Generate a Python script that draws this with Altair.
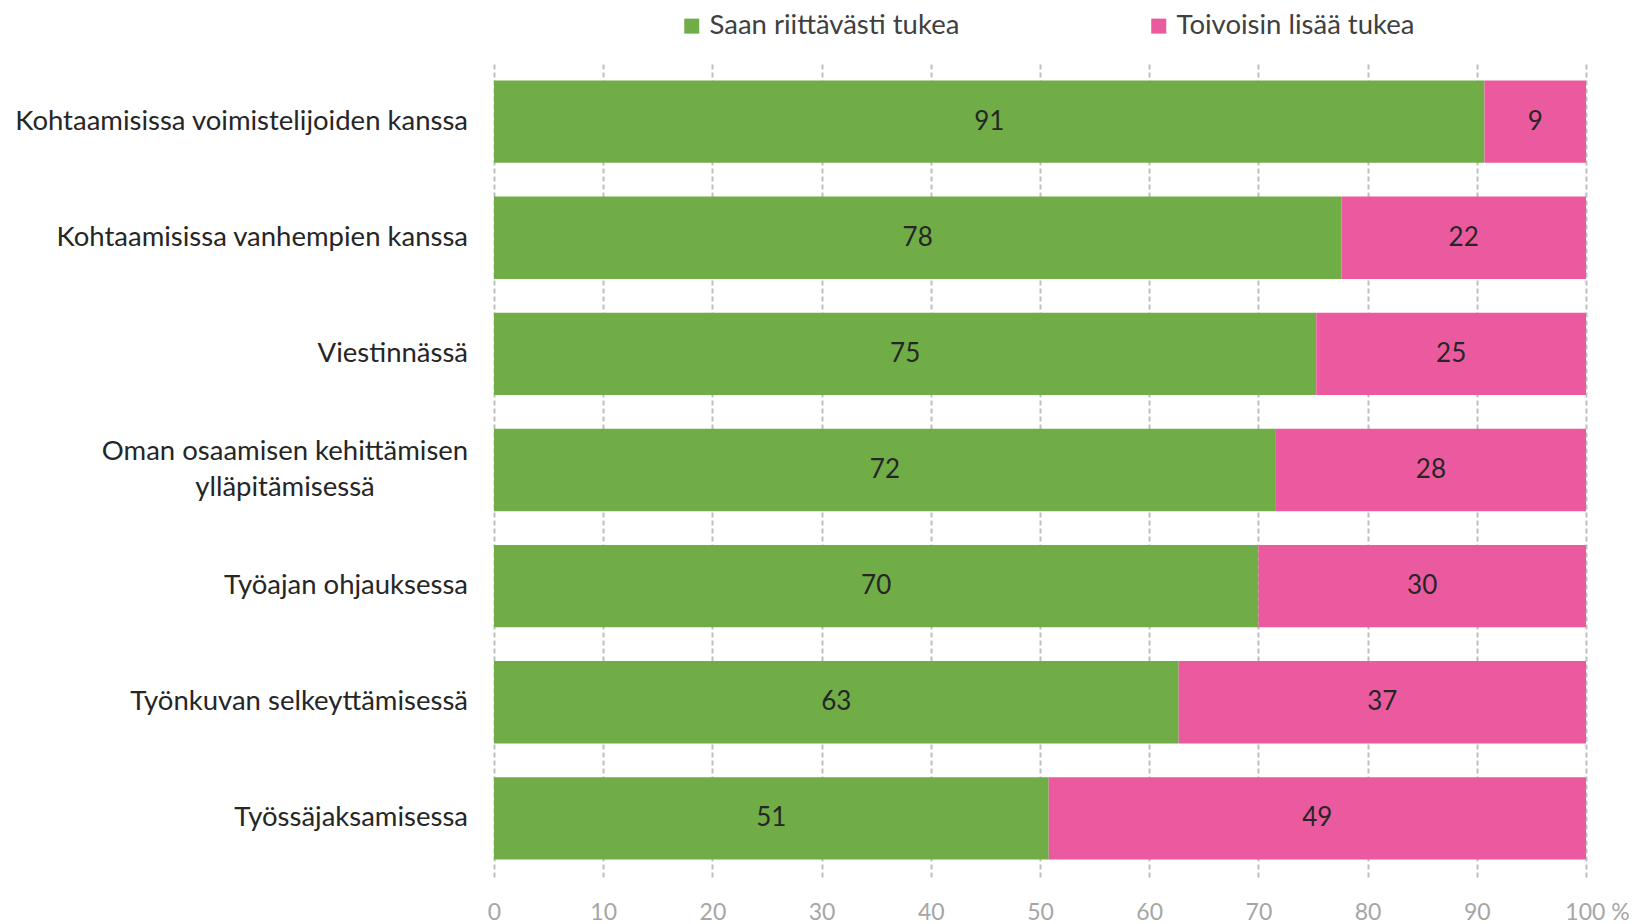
import altair as alt
import pandas as pd

categories = [
    "Kohtaamisissa voimistelijoiden kanssa",
    "Kohtaamisissa vanhempien kanssa",
    "Viestinnässä",
    "Oman osaamisen kehittämisen ylläpitämisessä",
    "Työajan ohjauksessa",
    "Työnkuvan selkeyttämisessä",
    "Työssäjaksamisessa",
]
category_lines = [
    ["Kohtaamisissa voimistelijoiden kanssa"],
    ["Kohtaamisissa vanhempien kanssa"],
    ["Viestinnässä"],
    ["Oman osaamisen kehittämisen", "ylläpitämisessä"],
    ["Työajan ohjauksessa"],
    ["Työnkuvan selkeyttämisessä"],
    ["Työssäjaksamisessa"],
]
series = ["Saan riittävästi tukea", "Toivoisin lisää tukea"]
green_values = [90.7, 77.6, 75.3, 71.6, 70.0, 62.7, 50.8]
pink_values = [9.3, 22.4, 24.7, 28.4, 30.0, 37.3, 49.2]
green_labels = [91, 78, 75, 72, 70, 63, 51]
pink_labels = [9, 22, 25, 28, 30, 37, 49]
colors = ["#70AD47", "#EB5A9E"]

rows = []
for i, c in enumerate(categories):
    rows.append({"category": c, "series": series[0], "order": 0, "value": green_values[i], "label": str(green_labels[i])})
    rows.append({"category": c, "series": series[1], "order": 1, "value": pink_values[i], "label": str(pink_labels[i])})
df = pd.DataFrame(rows)

single = pd.DataFrame([{"category": c, "text": l[0]} for c, l in zip(categories, category_lines) if len(l) == 1])
multi = pd.DataFrame([{"category": c, "text": l} for c, l in zip(categories, category_lines) if len(l) > 1])

FONT = "Lato"
FS = 27.5

y_scale = alt.Scale(domain=categories, paddingInner=0.29, paddingOuter=0.15)
y_enc = alt.Y("category:N", sort=categories, scale=y_scale,
              axis=alt.Axis(labels=False, ticks=False, domain=False, grid=False, title=None))

base = alt.Chart(df).transform_stack(
    stack="value", groupby=["category"], sort=[alt.SortField("order")], as_=["x0", "x1"]
).transform_calculate(mid="(datum.x0 + datum.x1) / 2")

bars = base.mark_bar().encode(
    x=alt.X("x0:Q", scale=alt.Scale(domain=[0, 100], nice=False),
            axis=alt.Axis(values=list(range(0, 101, 10)), title=None, domain=False, ticks=False,
                          grid=True, gridDash=[5, 3], gridColor="#BFBFBF", gridWidth=2,
                          labelFont=FONT, labelFontSize=23, labelColor="#A6A6A6", labelPadding=24,
                          labelFlush=False,
                          labelOffset=alt.ConditionalAxisNumber(
                              condition={"test": "datum.value == 100", "value": 11}, value=0),
                          labelExpr="datum.value == 100 ? '100 %' : datum.label")),
    x2="x1:Q",
    y=y_enc,
    color=alt.Color("series:N", scale=alt.Scale(domain=series, range=colors),
                    legend=alt.Legend(title=None, orient="none", direction="horizontal",
                                      legendX=184, legendY=-51, symbolType="square", symbolSize=225,
                                      symbolStrokeWidth=0, labelFont=FONT, labelFontSize=FS,
                                      labelColor="#404040", labelOffset=4, columnPadding=185,
                                      labelLimit=600)),
)

texts = base.mark_text(font=FONT, fontSize=26, color="#262626", baseline="middle").encode(
    x=alt.X("mid:Q"),
    y=alt.Y("category:N", sort=categories, scale=y_scale),
    text="label:N",
)

ylab1 = alt.Chart(single).mark_text(font=FONT, fontSize=FS, color="#262626", align="right",
                                     baseline="middle").encode(
    x=alt.value(-26),
    y=alt.Y("category:N", sort=categories, scale=y_scale),
    text="text:N",
)
ylab2 = alt.Chart(multi).mark_text(font=FONT, fontSize=FS, color="#262626", align="center",
                                    baseline="middle", lineHeight=36, dy=-18).encode(
    x=alt.value(-209),
    y=alt.Y("category:N", sort=categories, scale=y_scale),
    text="text",
)

chart = alt.layer(bars, texts, ylab1, ylab2).properties(
    width=1092, height=814,
    autosize=alt.AutoSizeParams(type="none"),
    padding={"left": 486, "top": 55, "right": 48, "bottom": 47},
).configure(background="white").configure_view(stroke=None)

chart.save("out.html", embed_options={"renderer": "svg", "actions": False})
